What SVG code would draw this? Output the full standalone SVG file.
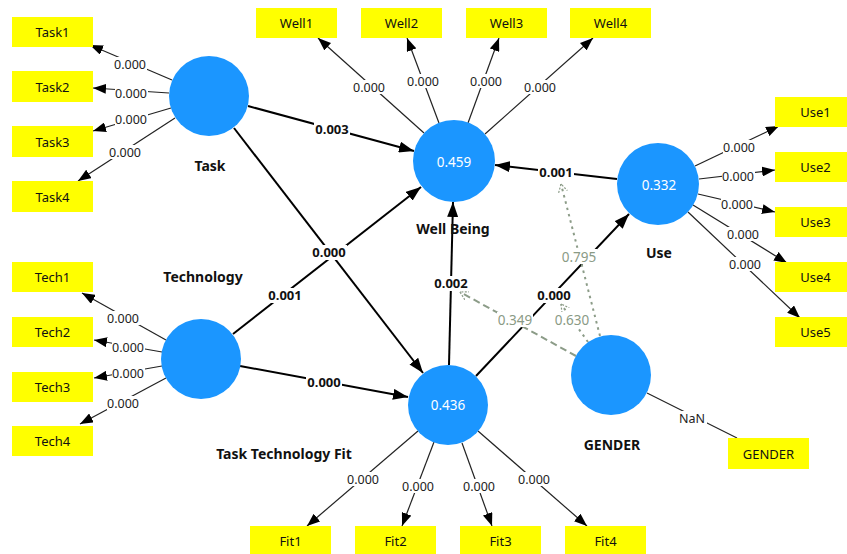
<svg xmlns="http://www.w3.org/2000/svg" width="847" height="554" viewBox="0 0 847 554">
<style>
.box{fill:#ffff00}
.bt{font-family:"Noto Sans","Open Sans",sans-serif;font-size:13px;fill:#111;text-anchor:middle;dominant-baseline:central}
.lv{fill:#1b96ff}
.cv{font-family:"Noto Sans","Open Sans",sans-serif;font-size:13.5px;fill:#fff;text-anchor:middle;dominant-baseline:central}
.nl{font-family:"Noto Sans","Open Sans",sans-serif;font-size:14px;font-weight:bold;fill:#111;text-anchor:middle;dominant-baseline:central}
.ld{stroke:#222;stroke-width:1.2;fill:none}
.sp{stroke:#000;stroke-width:2;fill:none}
.md1{stroke:#8c9c88;stroke-width:2;fill:none;stroke-dasharray:7 4}
.md2{stroke:#8c9c88;stroke-width:2;fill:none;stroke-dasharray:2.5 4}
.lt{font-family:"Noto Sans","Open Sans",sans-serif;font-size:12.5px;fill:#222;text-anchor:middle;dominant-baseline:central}
.st{font-family:"Noto Sans","Open Sans",sans-serif;font-size:13px;font-weight:bold;fill:#111;text-anchor:middle;dominant-baseline:central}
.mt{font-family:"Noto Sans","Open Sans",sans-serif;font-size:13.5px;fill:#8a9a85;text-anchor:middle;dominant-baseline:central}
.bg{fill:#fff}
</style>
<defs>
<marker id="al" markerWidth="13" markerHeight="10" refX="13" refY="5" orient="auto" markerUnits="userSpaceOnUse"><path d="M0,0 L13,5 L0,10 z" fill="#000"/></marker>
<marker id="as" markerWidth="15" markerHeight="11" refX="15" refY="5.5" orient="auto" markerUnits="userSpaceOnUse"><path d="M0,0 L15,5.5 L0,11 z" fill="#000"/></marker>
<marker id="am" markerWidth="9" markerHeight="10" refX="8" refY="5" orient="auto" markerUnits="userSpaceOnUse"><path d="M0,0.5 L8,5 L0,9.5" fill="none" stroke="#8c9c88" stroke-width="1.2" stroke-dasharray="2 1.5"/></marker>
</defs>
<rect width="847" height="554" fill="#fff"/>
<g id="connectors">
<line class="ld" x1="172" y1="80" x2="90" y2="45" marker-end="url(#al)"/>
<line class="ld" x1="169" y1="93" x2="93" y2="88" marker-end="url(#al)"/>
<line class="ld" x1="171" y1="108" x2="93" y2="131" marker-end="url(#al)"/>
<line class="ld" x1="175" y1="118" x2="78" y2="181" marker-end="url(#al)"/>
<line class="ld" x1="424" y1="133" x2="318" y2="38" marker-end="url(#al)"/>
<line class="ld" x1="439" y1="123" x2="407" y2="38" marker-end="url(#al)"/>
<line class="ld" x1="468" y1="123" x2="499" y2="38" marker-end="url(#al)"/>
<line class="ld" x1="485" y1="134" x2="593" y2="38" marker-end="url(#al)"/>
<line class="ld" x1="695" y1="166" x2="779" y2="126" marker-end="url(#al)"/>
<line class="ld" x1="699" y1="179" x2="775" y2="170" marker-end="url(#al)"/>
<line class="ld" x1="698" y1="194" x2="775" y2="212" marker-end="url(#al)"/>
<line class="ld" x1="693" y1="205" x2="787" y2="263" marker-end="url(#al)"/>
<line class="ld" x1="688" y1="212" x2="800" y2="318" marker-end="url(#al)"/>
<line class="ld" x1="166" y1="340" x2="82" y2="293" marker-end="url(#al)"/>
<line class="ld" x1="162" y1="352" x2="94" y2="340" marker-end="url(#al)"/>
<line class="ld" x1="162" y1="366" x2="94" y2="378" marker-end="url(#al)"/>
<line class="ld" x1="166" y1="378" x2="80" y2="424" marker-end="url(#al)"/>
<line class="ld" x1="418" y1="431" x2="307" y2="526" marker-end="url(#al)"/>
<line class="ld" x1="434" y1="442" x2="402" y2="526" marker-end="url(#al)"/>
<line class="ld" x1="462" y1="443" x2="492" y2="526" marker-end="url(#al)"/>
<line class="ld" x1="478" y1="431" x2="587" y2="526" marker-end="url(#al)"/>
<line class="ld" x1="647" y1="393" x2="737" y2="438"/>
<line class="sp" x1="248" y1="106" x2="414" y2="151" marker-end="url(#as)"/>
<line class="sp" x1="234" y1="128" x2="423" y2="373" marker-end="url(#as)"/>
<line class="sp" x1="233" y1="334" x2="421" y2="187" marker-end="url(#as)"/>
<line class="sp" x1="240" y1="366" x2="408" y2="397" marker-end="url(#as)"/>
<line class="sp" x1="449" y1="365" x2="453" y2="202" marker-end="url(#as)"/>
<line class="sp" x1="476" y1="376" x2="629" y2="214" marker-end="url(#as)"/>
<line class="sp" x1="617" y1="179" x2="495" y2="165" marker-end="url(#as)"/>
<line class="md2" x1="600" y1="336" x2="561" y2="184" marker-end="url(#am)"/>
<line class="md2" x1="588" y1="342" x2="561" y2="304" marker-end="url(#am)"/>
<line class="md1" x1="576" y1="356" x2="460" y2="292" marker-end="url(#am)"/>
<g>
<rect class="bg" x="114" y="57" width="33" height="14"/><text class="lt" x="130" y="64">0.000</text>
<rect class="bg" x="115" y="86" width="33" height="14"/><text class="lt" x="131" y="93">0.000</text>
<rect class="bg" x="115" y="112" width="33" height="14"/><text class="lt" x="131" y="119">0.000</text>
<rect class="bg" x="109" y="145" width="33" height="14"/><text class="lt" x="125" y="152">0.000</text>
<rect class="bg" x="353" y="80" width="33" height="14"/><text class="lt" x="369" y="87">0.000</text>
<rect class="bg" x="407" y="74" width="33" height="14"/><text class="lt" x="423" y="81">0.000</text>
<rect class="bg" x="470" y="74" width="33" height="14"/><text class="lt" x="486" y="81">0.000</text>
<rect class="bg" x="524" y="80" width="33" height="14"/><text class="lt" x="540" y="87">0.000</text>
<rect class="bg" x="723" y="140" width="33" height="14"/><text class="lt" x="739" y="147">0.000</text>
<rect class="bg" x="722" y="169" width="33" height="14"/><text class="lt" x="738" y="176">0.000</text>
<rect class="bg" x="721" y="197" width="33" height="14"/><text class="lt" x="737" y="204">0.000</text>
<rect class="bg" x="727" y="227" width="33" height="14"/><text class="lt" x="743" y="234">0.000</text>
<rect class="bg" x="729" y="257" width="33" height="14"/><text class="lt" x="745" y="264">0.000</text>
<rect class="bg" x="107" y="311" width="33" height="14"/><text class="lt" x="123" y="318">0.000</text>
<rect class="bg" x="112" y="340" width="33" height="14"/><text class="lt" x="128" y="347">0.000</text>
<rect class="bg" x="112" y="366" width="33" height="14"/><text class="lt" x="128" y="373">0.000</text>
<rect class="bg" x="107" y="396" width="33" height="14"/><text class="lt" x="123" y="403">0.000</text>
<rect class="bg" x="347" y="472" width="33" height="14"/><text class="lt" x="363" y="479">0.000</text>
<rect class="bg" x="402" y="479" width="33" height="14"/><text class="lt" x="418" y="486">0.000</text>
<rect class="bg" x="463" y="479" width="33" height="14"/><text class="lt" x="479" y="486">0.000</text>
<rect class="bg" x="518" y="472" width="33" height="14"/><text class="lt" x="534" y="479">0.000</text>
<rect class="bg" x="677" y="411" width="30" height="14"/><text class="lt" x="692" y="418">NaN</text>
</g>
<g>
<rect class="bg" x="314" y="122" width="36" height="15"/><text class="st" x="332" y="129">0.003</text>
<rect class="bg" x="311" y="245" width="36" height="15"/><text class="st" x="329" y="252">0.000</text>
<rect class="bg" x="267" y="288" width="36" height="15"/><text class="st" x="285" y="295">0.001</text>
<rect class="bg" x="306" y="375" width="36" height="15"/><text class="st" x="324" y="382">0.000</text>
<rect class="bg" x="433" y="276" width="36" height="15"/><text class="st" x="451" y="283">0.002</text>
<rect class="bg" x="536" y="288" width="36" height="15"/><text class="st" x="554" y="295">0.000</text>
<rect class="bg" x="538" y="165" width="36" height="15"/><text class="st" x="556" y="172">0.001</text>
<rect class="bg" x="561" y="249" width="36" height="15"/><text class="mt" x="579" y="257">0.795</text>
<rect class="bg" x="497" y="312" width="36" height="15"/><text class="mt" x="515" y="320">0.349</text>
<rect class="bg" x="554" y="312" width="36" height="15"/><text class="mt" x="572" y="320">0.630</text>
</g>
</g>
<g id="Task">
<circle class="lv" cx="209" cy="96" r="40"/>
<text class="nl" x="210" y="165">Task</text>
</g>
<g id="Technology">
<circle class="lv" cx="201" cy="359" r="40"/>
<text class="nl" x="203" y="276">Technology</text>
</g>
<g id="WellBeing">
<circle class="lv" cx="454" cy="161" r="41"/>
<text class="cv" x="454" y="162">0.459</text>
<text class="nl" x="453" y="228">Well Being</text>
</g>
<g id="Use">
<circle class="lv" cx="658" cy="184" r="41"/>
<text class="cv" x="659" y="185">0.332</text>
<text class="nl" x="659" y="252">Use</text>
</g>
<g id="TaskTechnologyFit">
<circle class="lv" cx="448" cy="405" r="40"/>
<text class="cv" x="448" y="405">0.436</text>
<text class="nl" x="284" y="453">Task Technology Fit</text>
</g>
<g id="GENDER">
<circle class="lv" cx="611" cy="375" r="40"/>
<text class="nl" x="612" y="444">GENDER</text>
</g>
<g id="Task1"><rect class="box" x="12" y="17" width="81" height="30"/><text class="bt" x="52.5" y="32">Task1</text></g>
<g id="Task2"><rect class="box" x="12" y="71" width="81" height="31"/><text class="bt" x="52.5" y="87">Task2</text></g>
<g id="Task3"><rect class="box" x="12" y="126" width="81" height="31"/><text class="bt" x="52.5" y="142">Task3</text></g>
<g id="Task4"><rect class="box" x="12" y="181" width="81" height="31"/><text class="bt" x="52.5" y="197">Task4</text></g>
<g id="Well1"><rect class="box" x="256" y="8" width="81" height="30"/><text class="bt" x="296.5" y="23">Well1</text></g>
<g id="Well2"><rect class="box" x="361" y="8" width="81" height="30"/><text class="bt" x="401.5" y="23">Well2</text></g>
<g id="Well3"><rect class="box" x="466" y="8" width="81" height="30"/><text class="bt" x="506.5" y="23">Well3</text></g>
<g id="Well4"><rect class="box" x="570" y="8" width="81" height="30"/><text class="bt" x="610.5" y="23">Well4</text></g>
<g id="Use1"><rect class="box" x="775" y="97" width="81" height="30"/><text class="bt" x="815.5" y="112">Use1</text></g>
<g id="Use2"><rect class="box" x="775" y="152" width="81" height="30"/><text class="bt" x="815.5" y="167">Use2</text></g>
<g id="Use3"><rect class="box" x="775" y="207" width="81" height="30"/><text class="bt" x="815.5" y="222">Use3</text></g>
<g id="Use4"><rect class="box" x="775" y="262" width="81" height="30"/><text class="bt" x="815.5" y="277">Use4</text></g>
<g id="Use5"><rect class="box" x="775" y="317" width="81" height="30"/><text class="bt" x="815.5" y="332">Use5</text></g>
<g id="Tech1"><rect class="box" x="12" y="262" width="81" height="30"/><text class="bt" x="52.5" y="277">Tech1</text></g>
<g id="Tech2"><rect class="box" x="12" y="317" width="81" height="30"/><text class="bt" x="52.5" y="332">Tech2</text></g>
<g id="Tech3"><rect class="box" x="12" y="372" width="81" height="30"/><text class="bt" x="52.5" y="387">Tech3</text></g>
<g id="Tech4"><rect class="box" x="12" y="426" width="81" height="30"/><text class="bt" x="52.5" y="441">Tech4</text></g>
<g id="Fit1"><rect class="box" x="250" y="526" width="81" height="30"/><text class="bt" x="290.5" y="541">Fit1</text></g>
<g id="Fit2"><rect class="box" x="355" y="526" width="81" height="30"/><text class="bt" x="395.5" y="541">Fit2</text></g>
<g id="Fit3"><rect class="box" x="460" y="526" width="81" height="30"/><text class="bt" x="500.5" y="541">Fit3</text></g>
<g id="Fit4"><rect class="box" x="565" y="526" width="81" height="30"/><text class="bt" x="605.5" y="541">Fit4</text></g>
<g id="GENDERbox"><rect class="box" x="728" y="438" width="81" height="31"/><text class="bt" x="768.5" y="454">GENDER</text></g>
</svg>
